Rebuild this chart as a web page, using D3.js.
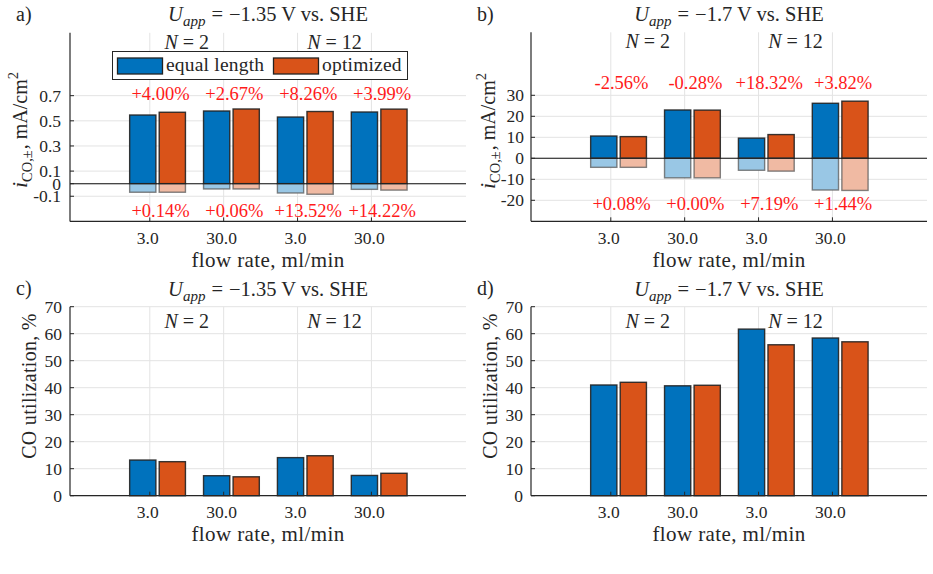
<!DOCTYPE html>
<html>
<head>
<meta charset="utf-8">
<script src="https://cdn.jsdelivr.net/npm/d3@7"></script>
<style>
  html, body { margin: 0; padding: 0; background: #fff; }
  svg text { font-family: "Liberation Serif", "Times New Roman", serif; fill: #262626; }
</style>
</head>
<body>
<svg id="chart" width="933" height="574"></svg>
<script>
// ---------------- data ----------------
const flowLabels = ["3.0", "30.0", "3.0", "30.0"];
const nValues = [2, 12];
const seriesNames = ["equal length", "optimized"];
const panelLetters = ["a)", "b)", "c)", "d)"];
const potentials = ["−1.35", "−1.7"];

// panel a: U = -1.35 V, current density (mA/cm^2)
const iPosLowEqual = [0.546, 0.578, 0.530, 0.570];
const iPosLowOpt   = [0.568, 0.594, 0.574, 0.593];
const iNegLowEqual = [-0.068, -0.042, -0.074, -0.045];
const iNegLowOpt   = [-0.068, -0.042, -0.084, -0.051];
const pctPosLow = ["+4.00%", "+2.67%", "+8.26%", "+3.99%"];
const pctNegLow = ["+0.14%", "+0.06%", "+13.52%", "+14.22%"];

// panel b: U = -1.7 V
const iPosHighEqual = [10.6, 23.0, 9.6, 26.2];
const iPosHighOpt   = [10.33, 22.94, 11.3, 27.2];
const iNegHighEqual = [-4.3, -9.3, -5.7, -15.1];
const iNegHighOpt   = [-4.3, -9.3, -6.1, -15.3];
const pctPosHigh = ["-2.56%", "-0.28%", "+18.32%", "+3.82%"];
const pctNegHigh = ["+0.08%", "+0.00%", "+7.19%", "+1.44%"];

// panels c, d: CO utilization (%)
const utilLowEqual  = [13.2, 7.4, 14.1, 7.5];
const utilLowOpt    = [12.6, 7.0, 14.8, 8.3];
const utilHighEqual = [41.0, 40.7, 61.7, 58.4];
const utilHighOpt   = [42.0, 40.9, 55.9, 57.0];

// axis ticks
const yTicksA = [-0.1, 0, 0.1, 0.3, 0.5, 0.7];
const yTickLabelsA = ["-0.1", "0", "0.1", "0.3", "0.5", "0.7"];
const yTicksB = [-20, -10, 0, 10, 20, 30];
const yTickLabelsB = ["-20", "-10", "0", "10", "20", "30"];
const yTicksUtil = [0, 10, 20, 30, 40, 50, 60, 70];
const yDomainA = [-0.3, 1.2];
const yDomainB = [-30, 60];
const yDomainUtil = [0, 70];
const xDomain = [-0.08, 5.28];
const xTickPos = [1, 2, 3, 4];

// ---------------- style ----------------
const BLUE = "#0072BD", ORANGE = "#D95319";
const BLUE_L = "#99c7e5", ORANGE_L = "#f0baa3";
const AX = "#262626", GRID = "#e3e3e3", RED = "#ff1a1a";
const FONT_TICK = 17.5, FONT_LAB = 20, FONT_PCT = 18.5;

const svg = d3.select("#chart");

function panel(cfg) {
  const g = svg.append("g");
  const x = d3.scaleLinear().domain(xDomain).range([cfg.left, cfg.right]);
  const y = d3.scaleLinear().domain(cfg.yDomain).range([cfg.bottom, cfg.top]);
  const unit = x(1) - x(0);
  const groupOff = 0.105, halfGap = 0.0225, barW = 0.355;

  // grid
  g.selectAll(".hg").data(cfg.yTicks).enter().append("line")
    .attr("x1", cfg.left).attr("x2", cfg.right)
    .attr("y1", d => y(d)).attr("y2", d => y(d))
    .attr("stroke", GRID).attr("stroke-width", 1);
  g.selectAll(".vg").data(xTickPos).enter().append("line")
    .attr("x1", d => x(d)).attr("x2", d => x(d))
    .attr("y1", cfg.top).attr("y2", cfg.bottom)
    .attr("stroke", GRID).attr("stroke-width", 1);

  // bars
  const series = [
    {vals: cfg.posEq, fill: BLUE, side: -1, light: false},
    {vals: cfg.posOpt, fill: ORANGE, side: 1, light: false}
  ];
  if (cfg.negEq) {
    series.push({vals: cfg.negEq, fill: BLUE_L, side: -1, light: true});
    series.push({vals: cfg.negOpt, fill: ORANGE_L, side: 1, light: true});
  }
  series.forEach(s => {
    g.selectAll(null).data(s.vals).enter().append("rect")
      .attr("x", (d, i) => {
        const c = xTickPos[i] + groupOff;
        return s.side < 0 ? x(c - halfGap - barW) : x(c + halfGap);
      })
      .attr("width", barW * unit)
      .attr("y", d => Math.min(y(d), y(0)))
      .attr("height", d => Math.abs(y(d) - y(0)))
      .attr("fill", s.fill)
      .attr("stroke", s.light ? "#5a5a5a" : "#222")
      .attr("stroke-opacity", s.light ? 0.75 : 0.9)
      .attr("stroke-width", 1.4);
  });

  // zero line
  if (cfg.negEq) {
    g.append("line").attr("x1", cfg.left).attr("x2", cfg.right)
      .attr("y1", y(0)).attr("y2", y(0)).attr("stroke", "#111").attr("stroke-width", 1.1);
  }

  // axes
  g.append("line").attr("x1", cfg.left).attr("x2", cfg.left)
    .attr("y1", cfg.top).attr("y2", cfg.bottom).attr("stroke", AX).attr("stroke-width", 1.2);
  g.append("line").attr("x1", cfg.left).attr("x2", cfg.right)
    .attr("y1", cfg.bottom).attr("y2", cfg.bottom).attr("stroke", AX).attr("stroke-width", 1.2);
  // y ticks (inward)
  g.selectAll(null).data(cfg.yTicks).enter().append("line")
    .attr("x1", cfg.left).attr("x2", cfg.left + 4)
    .attr("y1", d => y(d)).attr("y2", d => y(d)).attr("stroke", AX).attr("stroke-width", 1);
  g.selectAll(null).data(cfg.yTicks).enter().append("text")
    .attr("x", cfg.left - cfg.tickGap).attr("y", d => y(d)).attr("dy", "0.34em")
    .attr("text-anchor", "end").attr("font-size", FONT_TICK)
    .text((d, i) => cfg.yTickLabels[i]);
  // x ticks (inward)
  g.selectAll(null).data(xTickPos).enter().append("line")
    .attr("x1", d => x(d)).attr("x2", d => x(d))
    .attr("y1", cfg.bottom).attr("y2", cfg.bottom - 4).attr("stroke", AX).attr("stroke-width", 1);
  g.selectAll(null).data(xTickPos).enter().append("text")
    .attr("x", d => x(d) - 2).attr("y", cfg.bottom + 22.5)
    .attr("text-anchor", "middle").attr("font-size", FONT_TICK)
    .text((d, i) => flowLabels[i]);

  // x label
  g.append("text").attr("x", (cfg.left + cfg.right) / 2).attr("y", cfg.bottom + 45.5)
    .attr("text-anchor", "middle").attr("font-size", 21).attr("letter-spacing", 0.4)
    .text("flow rate, ml/min");

  // y label
  const yl = g.append("text")
    .attr("transform", `translate(${cfg.yLabX},${cfg.yLabY}) rotate(-90)`)
    .attr("text-anchor", "middle").attr("font-size", FONT_LAB);
  if (cfg.kind === "current") {
    yl.append("tspan").attr("font-style", "italic").attr("font-size", 22).text("i");
    yl.append("tspan").attr("font-size", 14.5).attr("dy", 4.5).text("CO,±");
    yl.append("tspan").attr("dy", -4.5).attr("dx", 1).text(",  mA/cm");
    yl.append("tspan").attr("font-size", 14.5).attr("dy", -9).text("2");
  } else {
    yl.attr("letter-spacing", 0.3).text("CO utilization, %");
  }

  // title
  const t = g.append("text").attr("x", (cfg.left + cfg.right) / 2).attr("y", cfg.titleY)
    .attr("text-anchor", "middle").attr("font-size", 20.5);
  t.append("tspan").attr("font-style", "italic").text("U");
  t.append("tspan").attr("font-style", "italic").attr("font-size", 15).attr("dy", 5).text("app");
  t.append("tspan").attr("dy", -5).attr("dx", 6).text("=");
  t.append("tspan").attr("dx", 6).text(cfg.potential + " V  vs.  SHE");

  // panel letter
  g.append("text").attr("x", cfg.letterX).attr("y", cfg.titleY - 0.5)
    .attr("font-size", 20).text(cfg.letter);

  // N labels
  nValues.forEach((n, k) => {
    const tx = g.append("text").attr("x", x(1.5 + 2 * k)).attr("y", cfg.top + cfg.nOff)
      .attr("text-anchor", "middle").attr("font-size", 20);
    tx.append("tspan").attr("font-style", "italic").text("N");
    tx.append("tspan").attr("dx", 5).text("=");
    tx.append("tspan").attr("dx", 5).text(String(n));
  });

  // percent labels
  if (cfg.pctPos) {
    g.selectAll(null).data(cfg.pctPos).enter().append("text")
      .attr("x", (d, i) => x(xTickPos[i] + groupOff) + 3).attr("y", cfg.pctPosY)
      .attr("text-anchor", "middle").attr("font-size", FONT_PCT).style("fill", RED).text(d => d);
    g.selectAll(null).data(cfg.pctNeg).enter().append("text")
      .attr("x", (d, i) => x(xTickPos[i] + groupOff) + 3).attr("y", cfg.pctNegY)
      .attr("text-anchor", "middle").attr("font-size", FONT_PCT).style("fill", RED).text(d => d);
  }

  // legend
  if (cfg.legend) {
    const L = g.append("g");
    L.append("rect").attr("x", 112.5).attr("y", 51.5).attr("width", 295).attr("height", 28)
      .attr("fill", "#fff").attr("stroke", AX).attr("stroke-width", 1);
    const items = [{c: BLUE, x: 117.5, tx: 166}, {c: ORANGE, x: 273.5, tx: 322}];
    items.forEach((it, k) => {
      L.append("rect").attr("x", it.x).attr("y", 58).attr("width", 45).attr("height", 16)
        .attr("fill", it.c).attr("stroke", "#222").attr("stroke-width", 1.3);
      L.append("text").attr("x", it.tx).attr("y", 71).attr("font-size", 19.5)
        .attr("letter-spacing", 0.2).text(seriesNames[k]);
    });
  }
}

panel({kind: "current", letter: panelLetters[0], letterX: 16, potential: potentials[0],
  left: 70, right: 466, top: 32.8, bottom: 221.4, titleY: 21, tickGap: 9,
  yDomain: yDomainA, yTicks: yTicksA, yTickLabels: yTickLabelsA,
  posEq: iPosLowEqual, posOpt: iPosLowOpt, negEq: iNegLowEqual, negOpt: iNegLowOpt,
  pctPos: pctPosLow, pctNeg: pctNegLow, pctPosY: 100, pctNegY: 216.5,
  nOff: 16.5, yLabX: 27, yLabY: 130, legend: true});

panel({kind: "current", letter: panelLetters[1], letterX: 477, potential: potentials[1],
  left: 531, right: 927, top: 32.3, bottom: 221.3, titleY: 21, tickGap: 7,
  yDomain: yDomainB, yTicks: yTicksB, yTickLabels: yTickLabelsB,
  posEq: iPosHighEqual, posOpt: iPosHighOpt, negEq: iNegHighEqual, negOpt: iNegHighOpt,
  pctPos: pctPosHigh, pctNeg: pctNegHigh, pctPosY: 88.5, pctNegY: 210,
  nOff: 15.4, yLabX: 495, yLabY: 131, legend: false});

panel({kind: "util", letter: panelLetters[2], letterX: 16, potential: potentials[0],
  left: 70, right: 466, top: 306.7, bottom: 495.7, titleY: 295.5, tickGap: 8,
  yDomain: yDomainUtil, yTicks: yTicksUtil, yTickLabels: yTicksUtil.map(String),
  posEq: utilLowEqual, posOpt: utilLowOpt,
  nOff: 21.6, yLabX: 36, yLabY: 386, legend: false});

panel({kind: "util", letter: panelLetters[3], letterX: 477, potential: potentials[1],
  left: 531, right: 927, top: 306.7, bottom: 495.7, titleY: 295.5, tickGap: 8,
  yDomain: yDomainUtil, yTicks: yTicksUtil, yTickLabels: yTicksUtil.map(String),
  posEq: utilHighEqual, posOpt: utilHighOpt,
  nOff: 21.6, yLabX: 497, yLabY: 386, legend: false});
</script>
</body>
</html>
